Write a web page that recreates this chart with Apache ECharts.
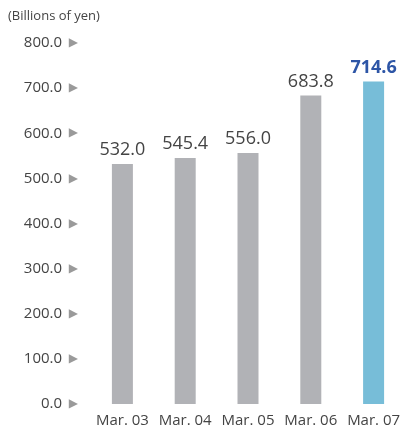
<!DOCTYPE html>
<html>
<head>
<meta charset="utf-8">
<script src="https://cdn.jsdelivr.net/npm/echarts@6/dist/echarts.min.js"></script>
<style>
  html, body { margin: 0; padding: 0; background: #fff; }
  #chart { width: 402px; height: 425px; }
</style>
</head>
<body>
<div id="chart"></div>
<script>
// Fiscal year-end periods and amounts (billions of yen)
const categories = ['Mar. 03', 'Mar. 04', 'Mar. 05', 'Mar. 06', 'Mar. 07'];
const values = [532.0, 545.4, 556.0, 683.8, 714.6];
const unitLabel = '(Billions of yen)';

const FONT = '"Open Sans", "Noto Sans", sans-serif';
const lastIdx = values.length - 1;

const chart = echarts.init(document.getElementById('chart'), null, { renderer: 'canvas' });

chart.setOption({
  animation: false,
  graphic: [{
    type: 'text',
    left: 8,
    top: 10,
    style: { text: unitLabel, fontSize: 13, fontFamily: FONT, fill: '#444' }
  }],
  grid: {
    left: 91, right: -3, top: 43, bottom: 21,
    containLabel: false,
    outerBoundsMode: 'none'
  },
  xAxis: {
    type: 'category',
    data: categories,
    axisLine: { show: false },
    axisTick: { show: false },
    axisLabel: {
      interval: 0,
      hideOverlap: false,
      margin: 9,
      fontSize: 15,
      fontFamily: FONT,
      color: '#444'
    }
  },
  yAxis: {
    type: 'value',
    min: 0,
    max: 800,
    interval: 100,
    splitLine: { show: false },
    axisLine: { show: false },
    axisTick: { show: false },
    axisLabel: {
      margin: 13,
      formatter: v => '{v|' + v.toFixed(1) + '}  {t|▶}',
      rich: {
        v: { fontSize: 15, fontFamily: FONT, color: '#444' },
        t: { fontSize: 12, fontFamily: 'DejaVu Sans', color: '#9a9a9a' }
      }
    }
  },
  series: [{
    type: 'bar',
    data: values.map((v, i) => ({
      value: v,
      itemStyle: { color: i === lastIdx ? '#77bdd8' : '#b1b2b6' },
      label: i === lastIdx
        ? { color: '#2d55a6', fontWeight: 'bold' }
        : {}
    })),
    barWidth: 21,
    label: {
      show: true,
      position: 'top',
      distance: 5,
      fontSize: 18,
      fontFamily: FONT,
      color: '#444',
      formatter: p => p.value.toFixed(1)
    }
  }]
});
</script>
</body>
</html>
